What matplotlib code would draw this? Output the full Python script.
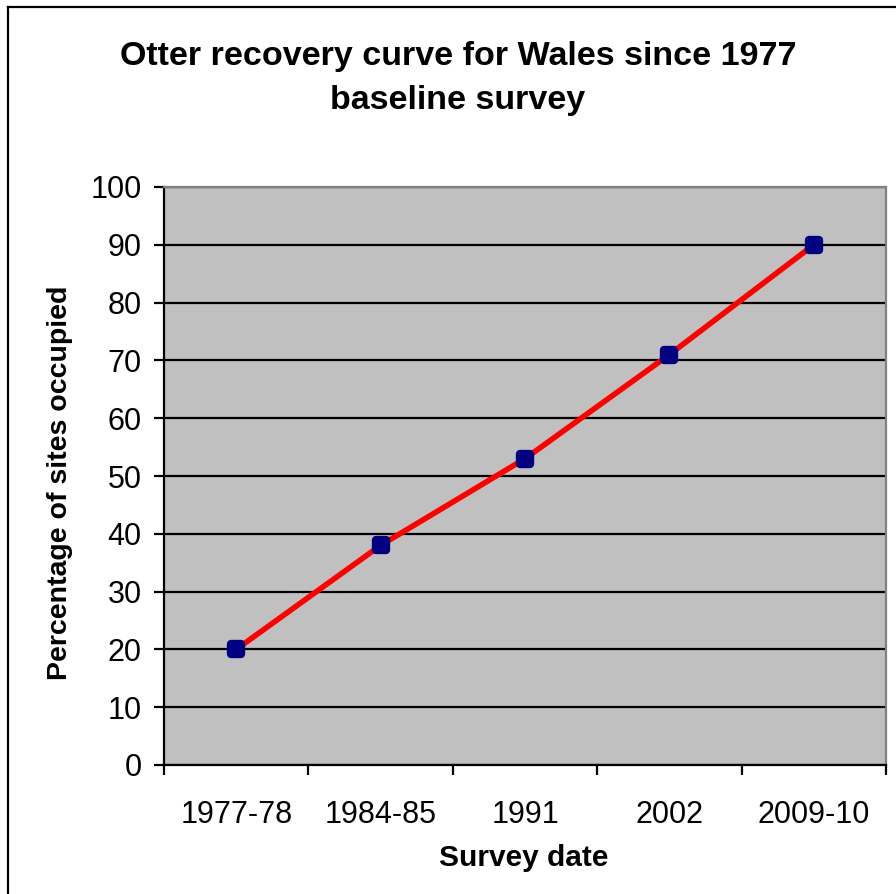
import matplotlib
matplotlib.use("Agg")
import matplotlib.pyplot as plt
from matplotlib.lines import Line2D
from matplotlib.markers import MarkerStyle
from matplotlib.ticker import FixedLocator

plt.rcParams['font.family'] = ['Liberation Sans', 'DejaVu Sans']

# Survey data
surveys = ['1977-78', '1984-85', '1991', '2002', '2009-10']
occupied = [20, 38, 53, 71, 90]
y_ticks = list(range(0, 101, 10))

fig = plt.figure(figsize=(8.96, 8.94), dpi=100)
ax = fig.add_axes([164 / 896, 1 - 765 / 894, (886 - 164) / 896, (765 - 187) / 894])
ax.set_facecolor('#C0C0C0')

# rounded square markers like the original spreadsheet chart
marker = MarkerStyle('s', joinstyle='round')
x = range(len(surveys))
ax.plot(x, occupied, color='#FF0000', linewidth=4, zorder=3,
        marker=marker, markersize=6.5, markeredgewidth=6,
        markerfacecolor='#000080', markeredgecolor='#000080',
        solid_capstyle='butt')

ax.set_xlim(-0.5, len(surveys) - 0.5)
ax.set_ylim(0, 100)
ax.set_yticks(y_ticks)
ax.set_xticks(list(x))
ax.set_xticklabels(surveys)
ax.xaxis.set_minor_locator(FixedLocator([i - 0.5 for i in range(len(surveys) + 1)]))

ax.grid(axis='y', color='black', linewidth=1.6, zorder=1)
ax.set_axisbelow(True)

ax.tick_params(axis='y', length=7, width=1.6, pad=9, labelsize=22, direction='out')
ax.tick_params(axis='x', which='major', length=0, pad=25, labelsize=22)
ax.tick_params(axis='x', which='minor', length=7, width=1.6, direction='out')

for side in ('top', 'right'):
    ax.spines[side].set_color('#808080')
    ax.spines[side].set_linewidth(1.6)
for side in ('left', 'bottom'):
    ax.spines[side].set_color('black')
    ax.spines[side].set_linewidth(1.6)

fig.text(458 / 896, 1 - 57 / 894, 'Otter recovery curve for Wales since 1977',
         ha='center', va='center', fontsize=24.5, fontweight='bold')
fig.text(458 / 896, 1 - 100 / 894, 'baseline survey',
         ha='center', va='center', fontsize=24.5, fontweight='bold')
fig.text(60 / 896, 1 - 483 / 894, 'Percentage of sites occupied', rotation=90,
         ha='center', va='center', fontsize=20.5, fontweight='bold')
fig.text(524 / 896, 1 - 858 / 894, 'Survey date',
         ha='center', va='center', fontsize=21.5, fontweight='bold')

# outer chart frame (only left and top edges visible)
fig.add_artist(Line2D([8 / 896, 8 / 896], [0, 1 - 7 / 894], color='black', linewidth=1.6,
                      transform=fig.transFigure))
fig.add_artist(Line2D([8 / 896, 1], [1 - 7 / 894, 1 - 7 / 894], color='black', linewidth=1.6,
                      transform=fig.transFigure))

fig.savefig('out.png', dpi=100)
